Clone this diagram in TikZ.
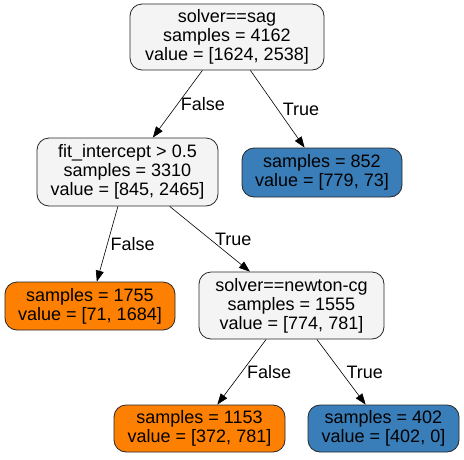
\documentclass[tikz,border=0pt]{standalone}
\usepackage{fontspec}
\setmainfont{Liberation Sans}
\usepackage{tikz}
\usetikzlibrary{arrows.meta}

\definecolor{splitgray}{RGB}{244,244,244}
\definecolor{leaforange}{RGB}{254,128,2}
\definecolor{leafblue}{RGB}{58,126,185}

\begin{document}
\begin{tikzpicture}[
        x=1pt, y=-1pt,
        font=\fontsize{18}{19}\selectfont,
        treenode/.style={draw=black!85, line width=0.8pt, rounded corners=12pt,
          align=center, inner sep=0pt},
        splitnode/.style={treenode, fill=splitgray},
        orangeleaf/.style={treenode, fill=leaforange},
        blueleaf/.style={treenode, fill=leafblue},
        branch/.style={-{Triangle[length=11pt,width=8pt]}, line width=0.6pt},
        decision/.style={anchor=west, inner sep=5pt}
      ]

      \useasboundingbox (0,0) rectangle (464,459);

      % ==================== NODES ====================

      \node (Root) [splitnode, minimum width=194pt, minimum height=66pt] at (227,37) {
        solver==sag \\ samples = 4162 \\ value = [1624, 2538]
      };

      \node (Intercept) [splitnode, minimum width=181pt, minimum height=68pt] at (127.5,172) {
        fit\_intercept > 0.5 \\ samples = 3310 \\ value = [845, 2465]
      };

      \node (SagLeaf) [blueleaf, minimum width=160pt, minimum height=49pt] at (322,172.5) {
        samples = 852 \\ value = [779, 73]
      };

      \node (NoInterceptLeaf) [orangeleaf, minimum width=170pt, minimum height=48pt] at (90,306) {
        samples = 1755 \\ value = [71, 1684]
      };

      \node (Newton) [splitnode, minimum width=185pt, minimum height=67pt] at (291.5,305.5) {
        solver==newton-cg \\ samples = 1555 \\ value = [774, 781]
      };

      \node (OtherLeaf) [orangeleaf, minimum width=171pt, minimum height=47pt] at (199.5,428.5) {
        samples = 1153 \\ value = [372, 781]
      };

      \node (NewtonLeaf) [blueleaf, minimum width=151pt, minimum height=47pt] at (383.5,428.5) {
        samples = 402 \\ value = [402, 0]
      };

      % ==================== EDGES ====================

      \draw [branch] (Root) -- node [decision, inner sep=3pt] {False} (Intercept);
      \draw [branch] (Root) -- node [decision] {True} (SagLeaf);
      \draw [branch] (Intercept) -- node [decision, inner sep=3pt] {False} (NoInterceptLeaf);
      \draw [branch] (Intercept) -- node [decision] {True} (Newton);
      \draw [branch] (Newton) -- node [decision] {False} (OtherLeaf);
      \draw [branch] (Newton) -- node [decision] {True} (NewtonLeaf);

    \end{tikzpicture}
\end{document}
